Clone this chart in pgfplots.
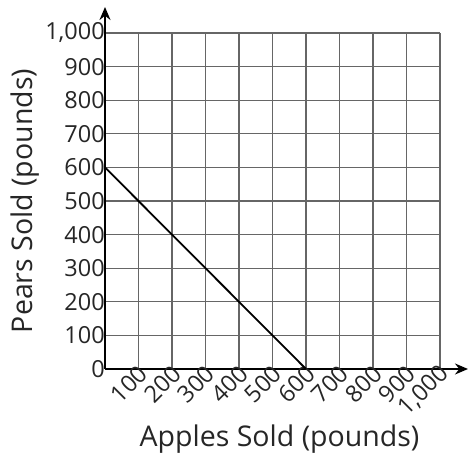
\documentclass[border=0pt]{standalone}
\usepackage{pgfplots}
\pgfplotsset{compat=1.18}
\usepackage{fontspec}
\setmainfont{Open Sans}
\usetikzlibrary{arrows.meta}
\begin{document}
\begin{tikzpicture}
\begin{axis}[
  scale only axis,
  width=335pt, height=336pt,
  xmin=0, xmax=1000, ymin=0, ymax=1000,
  axis lines=left,
  axis line style={line width=1.4pt, -{Stealth[length=13pt,width=11pt]}},
  x axis line style={shorten >=-28pt},
  y axis line style={shorten >=-26pt},
  xtick={100,200,...,1000},
  ytick={0,100,...,1000},
  yticklabels={\raisebox{-10pt}{0},100,200,300,400,500,600,700,800,900,{1,000}},
  xticklabels={100,200,300,400,500,600,700,800,900,{1,000}},
  major tick length=0pt,
  grid=major,
  major grid style={line width=1.1pt, color=black!60},
  tick label style={font=\fontsize{23.5}{23.5}\selectfont, text=black!85},
  x tick label style={rotate=45, anchor=east, xshift=4pt, yshift=-4pt, inner sep=1pt},
  y tick label style={xshift=2pt, inner sep=2pt},
  xlabel={Apples Sold (pounds)},
  ylabel={Pears Sold (pounds)},
  label style={font=\fontsize{28.5}{28.5}\selectfont, text=black!85},
  xlabel style={xshift=7pt, yshift=-1pt},
  ylabel style={yshift=0pt},
  clip=false,
]
\addplot[black, line width=1.8pt] coordinates {(0,600) (600,0)};
\coordinate (bl) at (rel axis cs:0,0);
\coordinate (tr) at (rel axis cs:1,1);
\end{axis}
\pgfresetboundingbox
\path[use as bounding box] ([xshift=-105pt,yshift=-91pt]bl) rectangle ([xshift=34pt,yshift=33pt]tr);
\end{tikzpicture}
\end{document}
